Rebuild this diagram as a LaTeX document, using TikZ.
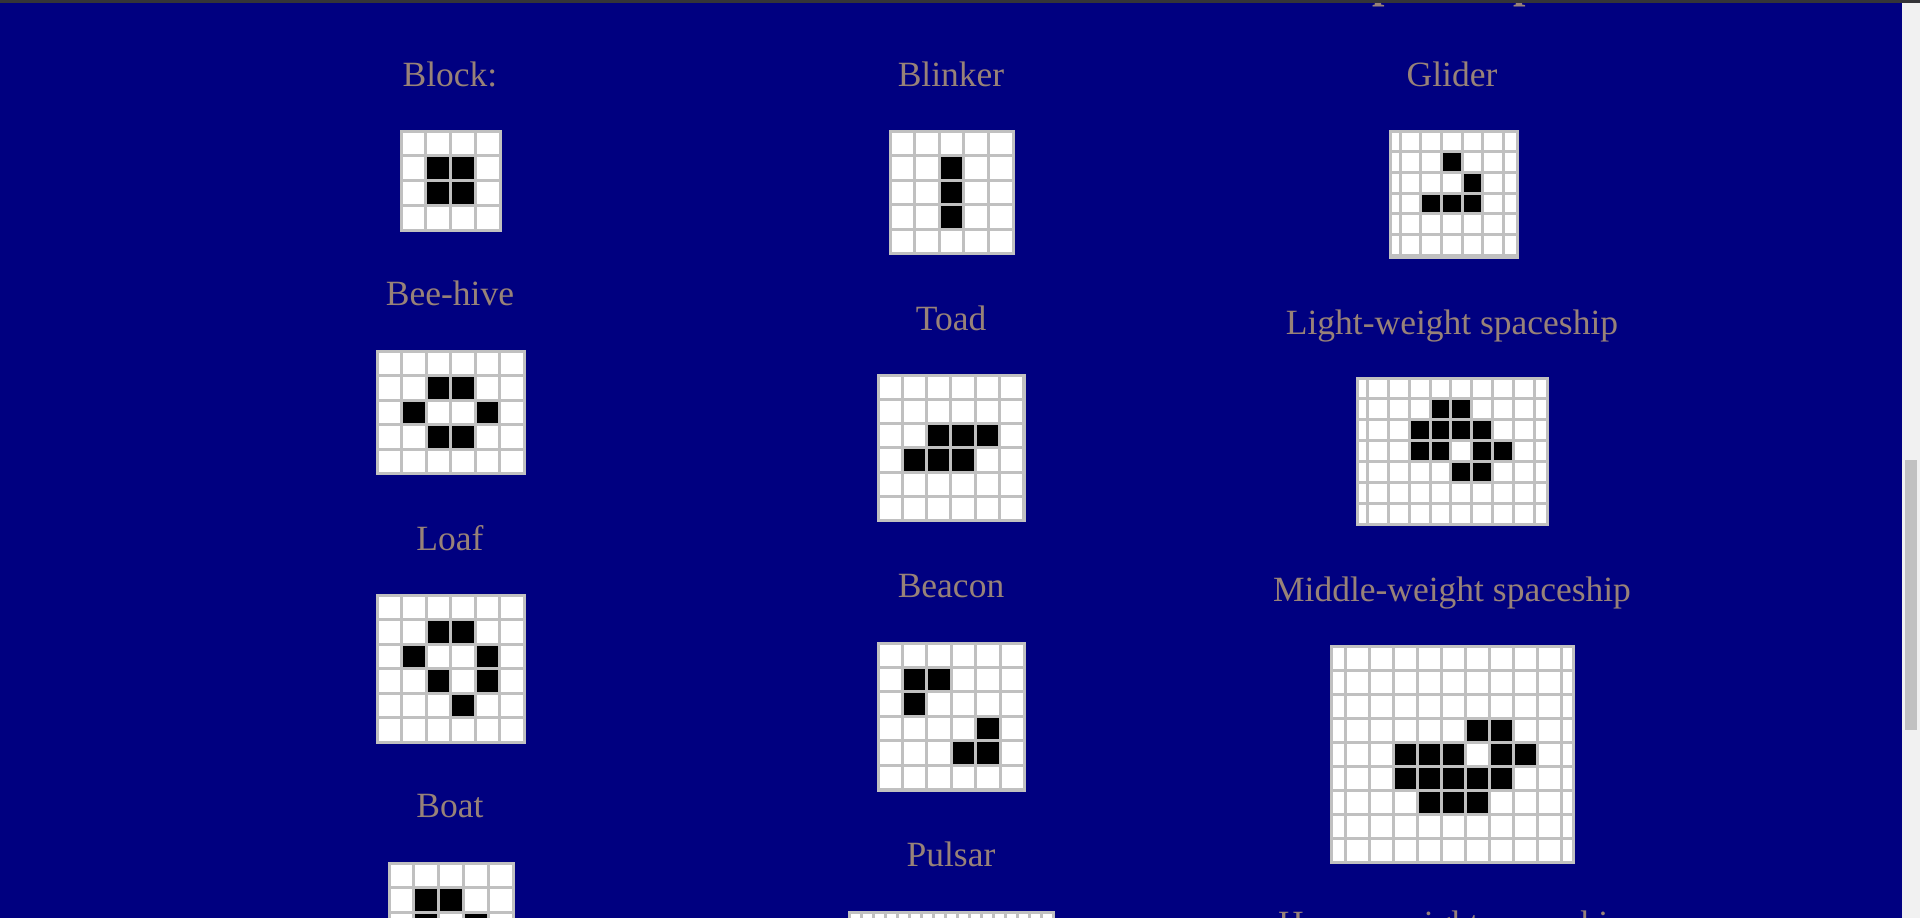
\documentclass[tikz,border=0pt]{standalone}
\usepackage{fontspec}
\setmainfont{Liberation Serif}
\usepackage{tikz}
\usepackage{xcolor}

\definecolor{pagenavy}{RGB}{0,0,128}
\definecolor{nametan}{RGB}{152,130,120}
\definecolor{gridgray}{RGB}{192,192,192}
\definecolor{trackgray}{RGB}{241,241,241}
\definecolor{thumbgray}{RGB}{193,193,193}
\definecolor{topbar}{RGB}{52,52,56}

\tikzset{
  patname/.style={font=\fontsize{35.5}{42}\selectfont, text=nametan, anchor=base, inner sep=0pt},
  heading/.style={font=\bfseries\fontsize{44.5}{50}\selectfont, text=nametan, anchor=base, inner sep=0pt}
}

% #1 left, #2 top, #3 right, #4 bottom, #5 x of first column, #6 cell, #7 last index, #8 live cells
\newcommand{\lifegrid}[8]{%
  \begin{scope}
    \clip (#1,#2) rectangle (#3,#4);
    \fill[gridgray] (#1,#2) rectangle (#3,#4);
    \foreach \i in {0,...,#7}
      \foreach \j in {0,...,#7}
        \fill[white] ({#5+\i*#6+1.5},{#2+\j*#6+1.5}) rectangle ({#5+(\i+1)*#6-1.5},{#2+(\j+1)*#6-1.5});
    \foreach \i/\j in {#8}
      \fill[black] ({#5+\i*#6+1.5},{#2+\j*#6+1.5}) rectangle ({#5+(\i+1)*#6-1.5},{#2+(\j+1)*#6-1.5});
  \end{scope}
  \draw[gridgray, line width=3pt] (#1,#2) rectangle (#3,#4);
}

\begin{document}
\begin{tikzpicture}[x=1pt,y=-1pt]
\useasboundingbox (0,0) rectangle (1920,918);
\clip (0,0) rectangle (1920,918);
\fill[pagenavy] (0,0) rectangle (1902,918);

% first column
\node[patname] (blockname) at (450,86) {Block:};
\lifegrid{401}{131}{500}{230}{401}{24.75}{3}{1/1,2/1,1/2,2/2}
\node[patname] (hivename) at (450,305) {Bee-hive};
\lifegrid{377}{351}{524}{473}{377}{24.5}{5}{2/1,3/1,1/2,4/2,2/3,3/3}
\node[patname] (loafname) at (450,550) {Loaf};
\lifegrid{377}{595}{524}{742}{377}{24.5}{5}{2/1,3/1,1/2,4/2,2/3,4/3,3/4}
\node[patname] (boatname) at (450,817) {Boat};
\lifegrid{389}{863}{513}{987}{389}{24.8}{4}{1/1,2/1,1/2,3/2,2/3}

% second column
\node[patname] (blinkername) at (951,86) {Blinker};
\lifegrid{890}{131}{1013}{253}{890}{24.6}{4}{2/1,2/2,2/3}
\node[patname] (toadname) at (951,330) {Toad};
\lifegrid{878}{375}{1024}{520}{878}{24.3}{5}{2/2,3/2,4/2,1/3,2/3,3/3}
\node[patname] (beaconname) at (951,597) {Beacon};
\lifegrid{878}{643}{1024}{790}{878}{24.4}{5}{1/1,2/1,1/2,4/3,3/4,4/4}
\node[patname] (pulsarname) at (951,866) {Pulsar};
\lifegrid{849}{912}{1053}{1116}{849}{12}{16}{4/2,5/2,6/2,10/2,11/2,12/2}

% third column
\node[heading] (shipsname) at (1452,-2.7) {Spaceships};
\node[patname] (glidername) at (1452,86) {Glider};
\lifegrid{1390}{131}{1517}{257}{1379.3}{20.7}{6}{3/1,4/2,2/3,3/3,4/3}
\node[patname] (lwssname) at (1452,334) {Light-weight spaceship};
\lifegrid{1357}{378}{1547}{524}{1346.4}{20.9}{9}{4/1,5/1,3/2,4/2,5/2,6/2,3/3,4/3,6/3,7/3,5/4,6/4}
\node[patname] (mwssname) at (1452,601) {Middle-weight spaceship};
\lifegrid{1331}{646}{1573}{862}{1321}{24}{10}{6/3,7/3,3/4,4/4,5/4,7/4,8/4,3/5,4/5,5/5,6/5,7/5,4/6,5/6,6/6}
\node[patname] (hwssname) at (1452,935) {Heavy-weight spaceship};

% window edges
\fill[trackgray] (1902,0) rectangle (1920,918);
\fill[thumbgray] (1905,460) rectangle (1917,730);
\fill[topbar] (0,0) rectangle (1920,3);
\end{tikzpicture}
\end{document}
